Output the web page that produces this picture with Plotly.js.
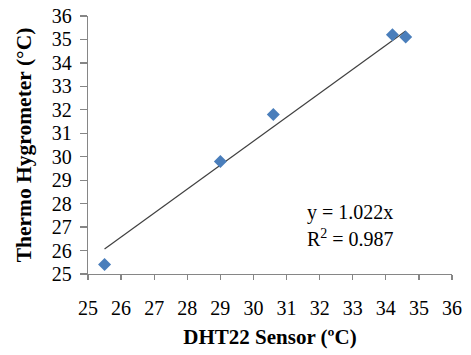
<!DOCTYPE html>
<html><head><meta charset="utf-8">
<script src="https://cdn.plot.ly/plotly-3.0.1.min.js"></script>
<style>html,body{margin:0;padding:0;background:#fff}#chart{width:471px;height:355px}</style>
</head><body><div id="chart"></div>
<script>
const sensorX = [25.5, 29.0, 30.6, 34.2, 34.6];
const hygroY = [25.4, 29.8, 31.8, 35.2, 35.1];
const slope = 1.022;
const r2 = 0.987;
const tickVals = [25, 26, 27, 28, 29, 30, 31, 32, 33, 34, 35, 36];

const xmin = Math.min(...sensorX), xmax = Math.max(...sensorX);
const trendX = [xmin, xmax];
const trendY = trendX.map(v => slope * v);

const serif = 'Liberation Serif';
const tickFont = () => ({family: serif, size: 20, color: '#000'});
const data = [
  {x: trendX, y: trendY, mode: 'lines', type: 'scatter',
   line: {color: '#404040', width: 1.2}, hoverinfo: 'skip'},
  {x: sensorX, y: hygroY, mode: 'markers', type: 'scatter',
   marker: {symbol: 'diamond', size: 10, color: '#4a7ebb'}}
];
const layout = {
  width: 471, height: 355, showlegend: false,
  font: {family: serif, color: '#000'},
  paper_bgcolor: '#fff', plot_bgcolor: '#fff',
  margin: {l: 88, r: 19, t: 16, b: 81},
  xaxis: {
    range: [25, 36], tickvals: tickVals, showgrid: false, zeroline: false,
    showline: true, linecolor: '#868686', linewidth: 1.3,
    ticks: 'outside', tickcolor: '#868686', tickwidth: 1.3, ticklen: 5, ticklabelstandoff: 11,
    tickfont: tickFont(),
    title: {text: '<b>DHT22 Sensor (ºC)</b>', font: {family: serif, size: 21, color: '#000'}, standoff: 11}
  },
  yaxis: {
    range: [25, 36], tickvals: tickVals, showgrid: false, zeroline: false,
    showline: true, linecolor: '#868686', linewidth: 1.3,
    ticks: 'outside', tickcolor: '#868686', tickwidth: 1.3, ticklen: 7, ticklabelstandoff: 4,
    tickfont: tickFont(),
    title: {text: '<b>Thermo Hygrometer (°C)</b>', font: {family: serif, size: 21.5, color: '#000'}, standoff: 14}
  },
  annotations: [
    {xref: 'paper', yref: 'paper', x: 0.597, y: 0.238, xanchor: 'left', yanchor: 'middle', showarrow: false, align: 'left',
     text: 'y = ' + slope.toFixed(3) + 'x', font: {family: serif, size: 20, color: '#000'}},
    {xref: 'paper', yref: 'paper', x: 0.597, y: 0.138, xanchor: 'left', yanchor: 'middle', showarrow: false, align: 'left',
     text: 'R<sup>2</sup> = ' + r2.toFixed(3), font: {family: serif, size: 20, color: '#000'}}
  ]
};
Plotly.newPlot('chart', data, layout, {displayModeBar: false, staticPlot: true});
</script></body></html>
